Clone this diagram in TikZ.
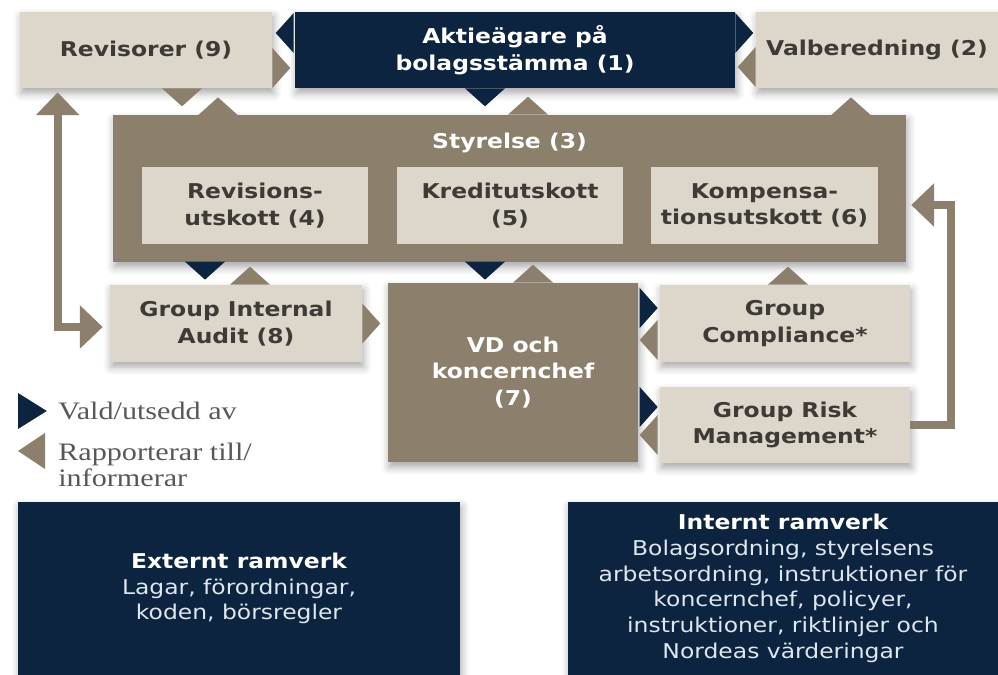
\documentclass[tikz,border=0pt]{standalone}
\usepackage{fontspec}
\usetikzlibrary{calc,arrows.meta,shadows.blur}

\newfontfamily\ladfont{DejaVu Sans}[FakeStretch=1.15]
\newfontfamily\legendfont{Liberation Serif}[FakeStretch=1.2]

\definecolor{marin}{RGB}{12,36,64}
\definecolor{grabrun}{RGB}{140,127,108}
\definecolor{ljusbeige}{RGB}{221,214,203}
\definecolor{morktext}{RGB}{62,58,54}
\definecolor{legendgra}{RGB}{88,88,88}
\definecolor{ljustext}{RGB}{222,230,238}

\tikzset{
  lada/.style={rectangle, inner sep=0pt, align=center, font=\ladfont\fontsize{11.6}{15.2}\selectfont\bfseries},
  ljus/.style={lada, fill=ljusbeige, text=morktext},
  brun/.style={lada, fill=grabrun, text=white},
  marinlada/.style={lada, fill=marin, text=white},
  skugga/.style={blur shadow={shadow xshift=0.3mm, shadow yshift=-1mm, shadow blur radius=1.6mm, shadow opacity=35}},
  pil/.pic={\fill (0,-20) -- (18,0) -- (0,20) -- cycle;},
  valdpil/.style={color=marin},
  rappil/.style={color=grabrun},
  raplinje/.style={draw=grabrun, line width=4.5pt, >={Triangle[width=24pt,length=13pt]}},
  legendtext/.style={inner sep=0pt, align=left, text=legendgra, font=\legendfont\fontsize{14.3}{15}\selectfont}
}

\begin{document}
\begin{tikzpicture}[x=0.02cm, y=-0.02cm]

  \useasboundingbox (0,0) rectangle (998,675);

  % -- Top row --
  \node[ljus, skugga, minimum width=5.04cm, minimum height=1.52cm] (rev) at (146,50) {Revisorer (9)};
  \node[marinlada, skugga, minimum width=8.8cm, minimum height=1.52cm] (akt) at (515,50) {Aktieägare på\\bolagsstämma (1)};
  \node[ljus, skugga, minimum width=4.84cm, minimum height=1.52cm] (val) at (877,50) {Valberedning (2)};

  % -- Board with committees --
  \node[brun, skugga, minimum width=15.86cm, minimum height=2.94cm] (sty) at (509.5,188.5) {};
  \node[lada, text=white] (stytitel) at ($(sty.north)+(0,28)$) {Styrelse (3)};
  \node[ljus, minimum width=4.52cm, minimum height=1.54cm] (k4) at (255,205.5) {Revisions-\\utskott (4)};
  \node[ljus, minimum width=4.52cm, minimum height=1.54cm] (k5) at (510,205.5) {Kreditutskott\\(5)};
  \node[ljus, minimum width=4.54cm, minimum height=1.54cm] (k6) at (764.5,205.5) {Kompensa-\\tionsutskott (6)};

  % -- Management row --
  \node[ljus, skugga, minimum width=5.04cm, minimum height=1.54cm] (gia) at (236,323.5) {Group Internal\\Audit (8)};
  \node[brun, skugga, minimum width=5cm, minimum height=3.58cm] (vd) at (513,372.5) {VD och\\koncernchef\\(7)};
  \node[ljus, skugga, minimum width=5cm, minimum height=1.54cm] (gc) at (785,323.5) {Group\\Compliance*};
  \node[ljus, skugga, minimum width=5cm, minimum height=1.52cm] (grm) at (785,425) {Group Risk\\Management*};

  % -- Frameworks --
  \node[marinlada, skugga, minimum width=8.84cm, minimum height=3.46cm, text=ljustext, font=\ladfont\fontsize{11.6}{14.6}\selectfont] (ext) at (239,588.5)
    {\textcolor{white}{\bfseries Externt ramverk}\\Lagar, förordningar,\\koden, börsregler};
  \node[marinlada, skugga, minimum width=8.6cm, minimum height=3.46cm, text=ljustext, font=\ladfont\fontsize{11.6}{14.6}\selectfont] (int) at (783,588.5)
    {\textcolor{white}{\bfseries Internt ramverk}\\Bolagsordning, styrelsens\\arbetsordning, instruktioner för\\koncernchef, policyer,\\instruktioner, riktlinjer och\\Nordeas värderingar};

  % -- Elected/appointed by --
  \pic[valdpil, rotate=180] at ($(akt.west)+(-1,-17)$) {pil};
  \pic[valdpil] at ($(akt.east)+(0,-17)$) {pil};
  \pic[valdpil, rotate=-90] at ($(akt.south)+(-30,0)$) {pil};
  \pic[valdpil, rotate=-90] at ($(gia.north)+(-31,-23)$) {pil};
  \pic[valdpil, rotate=-90] at ($(vd.north)+(-28,-21)$) {pil};
  \pic[valdpil] at ($(gc.west)+(-20,-15.5)$) {pil};
  \pic[valdpil] at ($(grm.west)+(-20,-18)$) {pil};

  % -- Reports to/informs --
  \pic[rappil] at ($(rev.east)+(0,18)$) {pil};
  \pic[rappil, rotate=180] at ($(val.west)+(0,17)$) {pil};
  \pic[rappil, rotate=-90] at ($(rev.south)+(36,0)$) {pil};
  \pic[rappil, rotate=90] at ($(rev.south)+(72,27)$) {pil};
  \pic[rappil, rotate=90] at ($(sty.north)+(18.5,0)$) {pil};
  \pic[rappil, rotate=90] at ($(val.south)+(-26,27)$) {pil};
  \pic[rappil, rotate=90] at ($(gia.north)+(14,0)$) {pil};
  \pic[rappil, rotate=90] at ($(vd.north)+(20,0)$) {pil};
  \pic[rappil, rotate=90] at ($(gc.north)+(3,0)$) {pil};
  \pic[rappil] at (gia.east) {pil};
  \pic[rappil, rotate=180] at ($(gc.west)+(-2,16.5)$) {pil};
  \pic[rappil, rotate=180] at ($(grm.west)+(-2,10)$) {pil};

  % -- Long report lines --
  \draw[raplinje, <->] ($(gia.west)+(-7,3.5)$) -| ($(rev.south west)+(38,4)$);
  \draw[raplinje, ->] (grm.east) -- ++(41,0) |- ($(sty.east)+(5,16.5)$);

  % -- Legend --
  \node[legendtext, anchor=west] (vald) at (58,411) {Vald/utsedd av};
  \node[legendtext, anchor=west] (rap) at (58,465) {Rapporterar till/\\informerar};
  \pic[valdpil, xscale=1.6, yscale=0.9] at ($(vald.west)+(-40,0)$) {pil};
  \pic[rappil, rotate=180, xscale=1.5, yscale=0.9] at ($(rap.west)+(-13,-14)$) {pil};

\end{tikzpicture}
\end{document}
